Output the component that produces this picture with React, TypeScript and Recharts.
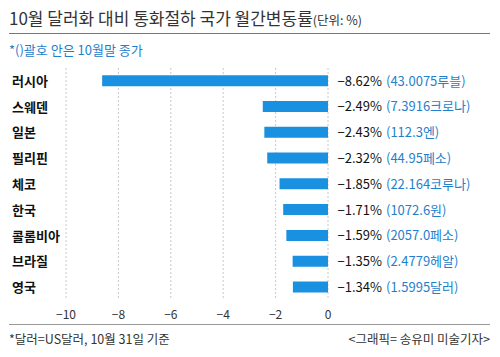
import React from 'react';
import { BarChart, Bar, XAxis, YAxis, CartesianGrid, LabelList } from 'recharts';

const countries = ['러시아', '스웨덴', '일본', '필리핀', '체코', '한국', '콜롬비아', '브라질', '영국'];
const changes = [-8.62, -2.49, -2.43, -2.32, -1.85, -1.71, -1.59, -1.35, -1.34];
const closes = ['43.0075루블', '7.3916크로나', '112.3엔', '44.95페소', '22.164코루나', '1072.6원', '2057.0페소', '2.4779헤알', '1.5995달러'];
const xTicks = [-10, -8, -6, -4, -2, 0];

const data = countries.map((name, i) => ({ name, value: changes[i], close: closes[i] }));

const FONT = '"Noto Sans CJK KR", "Noto Sans", sans-serif';
const BLUE = '#1f80cc';
const BAR = '#1a90e0';

const fmt = (v: number) => (v < 0 ? '−' : '') + Math.abs(v).toFixed(2) + '%';

const CatTick = (props: any) => {
  const { y, payload } = props;
  return (
    <text x={12} y={y} dy={5} textAnchor="start" fontSize={13} fontWeight={700} fill="#111" fontFamily={FONT}>
      {payload.value}
    </text>
  );
};

const ValueLabel = (props: any) => {
  const { x, y, width, height, index } = props;
  const right = Math.max(Number(x), Number(x) + Number(width));
  const cy = Number(y) + Math.abs(Number(height)) / 2 + 5;
  return (
    <g fontFamily={FONT} fontSize={13}>
      <text x={right + 54} y={cy} textAnchor="end" fill="#111">{fmt(changes[index])}</text>
      <text x={right + 58} y={cy} textAnchor="start" fill={BLUE}>({closes[index]})</text>
    </g>
  );
};

export default function App() {
  return (
    <div style={{ position: 'absolute', left: 0, top: 0, width: 500, height: 357, background: '#fff', fontFamily: FONT }}>
      <div style={{ position: 'absolute', left: 9, top: 5, fontSize: 17, color: '#333', whiteSpace: 'nowrap' }}>
        10월 달러화 대비 통화절하 국가 월간변동률<span style={{ fontSize: 12.5 }}>(단위: %)</span>
      </div>
      <div style={{ position: 'absolute', left: 9, top: 33, width: 481, height: 1, background: '#777' }} />
      <div style={{ position: 'absolute', left: 9, top: 40, fontSize: 13, color: BLUE, whiteSpace: 'nowrap' }}>
        *()괄호 안은 10월말 종가
      </div>
      <div style={{ position: 'absolute', left: 0, top: 0 }}>
        <BarChart
          width={500}
          height={357}
          layout="vertical"
          data={data}
          margin={{ top: 68, right: 172, bottom: 27, left: 0 }}
          barCategoryGap="28%"
        >
          <CartesianGrid vertical horizontal={false} strokeDasharray="2 2" stroke="#c8c8c8" />
          <XAxis
            type="number"
            domain={[-10, 0]}
            ticks={xTicks}
            axisLine={false}
            tickLine={false}
            height={30}
            tickFormatter={(v: number) => (v < 0 ? '−' + Math.abs(v) : String(v))}
            tick={{ fontSize: 12, fill: '#333', fontFamily: FONT }}
            tickMargin={4}
          />
          <YAxis
            type="category"
            dataKey="name"
            width={66}
            axisLine={false}
            tickLine={false}
            tick={<CatTick />}
            interval={0}
          />
          <Bar dataKey="value" fill={BAR} isAnimationActive={false}>
            <LabelList dataKey="value" content={<ValueLabel />} />
          </Bar>
        </BarChart>
      </div>
      <div style={{ position: 'absolute', left: 9, top: 324, width: 481, height: 1, background: '#999' }} />
      <div style={{ position: 'absolute', left: 9, top: 329, fontSize: 12.5, color: '#333', whiteSpace: 'nowrap' }}>
        *달러=US달러, 10월 31일 기준
      </div>
      <div style={{ position: 'absolute', right: 10, top: 329, fontSize: 12.5, color: '#333', whiteSpace: 'nowrap' }}>
        &lt;그래픽= 송유미 미술기자&gt;
      </div>
    </div>
  );
}
